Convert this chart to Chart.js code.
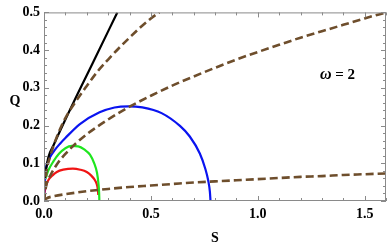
<!DOCTYPE html>
<html lang="en">
<head>
    <meta charset="UTF-8">
    <title>Q vs S, omega = 2</title>
    <script src="https://cdn.jsdelivr.net/npm/chart.js"></script>
    <style>
        body { margin: 0; background: #fff; }
    </style>
</head>
<body>
    <canvas id="qsChart" width="388" height="249"></canvas>

    <script>
        // [S, Q] pairs
        const dashA = [[0,0],[0.01,0.07],[0.03,0.12],[0.06,0.17],[0.1,0.22],[0.15,0.265],[0.2,0.305],[0.25,0.343],[0.3,0.375],[0.35,0.405],[0.4,0.433],[0.45,0.46],[0.5,0.484],[0.54,0.5]];
        const dashB = [[0,0],[0.01,0.04],[0.03,0.068],[0.06,0.097],[0.1,0.125],[0.15,0.153],[0.2,0.177],[0.3,0.216],[0.4,0.25],[0.5,0.279],[0.6,0.306],[0.7,0.33],[0.8,0.353],[0.9,0.375],[1.0,0.395],[1.1,0.414],[1.2,0.433],[1.3,0.45],[1.4,0.467],[1.5,0.484],[1.6,0.5]];
        const dashC = [[0,0],[0.01,0.006],[0.05,0.013],[0.1,0.018],[0.2,0.026],[0.3,0.032],[0.4,0.037],[0.5,0.041],[0.6,0.045],[0.7,0.049],[0.8,0.052],[0.9,0.055],[1.0,0.058],[1.1,0.061],[1.2,0.064],[1.3,0.066],[1.4,0.069],[1.5,0.071],[1.6,0.073]];
        const blackLine = [[0.003,0.06],[0.02,0.115],[0.044,0.147],[0.137,0.26],[0.231,0.369],[0.343,0.5]];
        const blueCurve = [[0,0.01],[0.003,0.05],[0.006,0.075],[0.015,0.1],[0.028,0.116],[0.05,0.135],[0.075,0.152],[0.1,0.167],[0.168,0.204],[0.26,0.235],[0.33,0.248],[0.394,0.251],[0.46,0.248],[0.55,0.233],[0.636,0.199],[0.682,0.171],[0.729,0.126],[0.755,0.085],[0.768,0.055],[0.776,0.025],[0.779,0]];
        const greenCurve = [[0.004,0.055],[0.012,0.068],[0.02,0.081],[0.044,0.105],[0.07,0.125],[0.1,0.14],[0.13,0.146],[0.16,0.145],[0.19,0.136],[0.215,0.123],[0.235,0.1],[0.248,0.075],[0.255,0.045],[0.258,0.02],[0.259,0]];
        const redCurve = [[0,0.012],[0.005,0.03],[0.012,0.045],[0.02,0.055],[0.04,0.068],[0.06,0.077],[0.09,0.083],[0.135,0.086],[0.17,0.083],[0.2,0.077],[0.22,0.068],[0.235,0.058],[0.246,0.046],[0.252,0.03],[0.254,0.016]];

        const xTicks = [0, 0.5, 1.0, 1.5];
        const yTicks = [0, 0.1, 0.2, 0.3, 0.4, 0.5];
        const xMinorStep = 0.1;
        const yMinorStep = 0.02;

        const serif = '"Liberation Serif", "DejaVu Serif", serif';
        const brown = '#6e4e2c';

        const toXY = pts => pts.map(p => ({ x: p[0], y: p[1] }));

        const solid = (data, color) => ({
            data: toXY(data),
            borderColor: color,
            borderWidth: 2.2,
            pointRadius: 0,
            cubicInterpolationMode: 'monotone',
            fill: false
        });
        const dashed = data => ({
            data: toXY(data),
            borderColor: brown,
            borderWidth: 2.6,
            borderDash: [8, 4],
            pointRadius: 0,
            cubicInterpolationMode: 'monotone',
            fill: false
        });

        // inward ticks on all four sides, frame, axis titles and annotation
        const framePlugin = {
            id: 'frame',
            afterDraw(chart) {
                const ctx = chart.ctx;
                const a = chart.chartArea;
                const xs = chart.scales.x, ys = chart.scales.y;
                ctx.save();
                ctx.strokeStyle = '#8a8a8a';
                ctx.lineWidth = 1;
                ctx.strokeRect(a.left + 0.5, a.top + 0.5, a.right - a.left - 1, a.bottom - a.top - 1);

                ctx.beginPath();
                for (let i = 0; i <= 16; i++) {
                    const v = i * xMinorStep;
                    const px = Math.round(xs.getPixelForValue(v)) + 0.5;
                    const len = (i % 5 === 0) ? 5 : 3;
                    ctx.moveTo(px, a.bottom); ctx.lineTo(px, a.bottom - len);
                    ctx.moveTo(px, a.top); ctx.lineTo(px, a.top + len);
                }
                for (let i = 0; i <= 25; i++) {
                    const v = i * yMinorStep;
                    const py = Math.round(ys.getPixelForValue(v)) + 0.5;
                    const len = (i % 5 === 0) ? 5 : 3;
                    ctx.moveTo(a.left, py); ctx.lineTo(a.left + len, py);
                    ctx.moveTo(a.right, py); ctx.lineTo(a.right - len, py);
                }
                ctx.stroke();

                ctx.fillStyle = '#000';
                ctx.font = 'bold 14px ' + serif;
                ctx.textAlign = 'center';
                ctx.textBaseline = 'middle';
                ctx.fillText('S', 215, 238);
                ctx.fillText('Q', 15, 101);

                ctx.textAlign = 'left';
                ctx.font = 'italic bold 16px ' + serif;
                ctx.fillText('ω', 320, 75);
                const w = ctx.measureText('ω').width;
                ctx.font = 'bold 15px ' + serif;
                ctx.fillText(' = 2', 320 + w, 75);
                ctx.restore();
            }
        };

        new Chart(document.getElementById('qsChart').getContext('2d'), {
            type: 'line',
            data: {
                datasets: [
                    dashed(dashA),
                    dashed(dashB),
                    dashed(dashC),
                    solid(blackLine, '#000000'),
                    solid(blueCurve, '#0a14f0'),
                    solid(greenCurve, '#1ee61e'),
                    solid(redCurve, '#f01414')
                ]
            },
            options: {
                responsive: false,
                devicePixelRatio: 1,
                animation: false,
                layout: { padding: { top: 10, right: 2, left: 0, bottom: 0 } },
                plugins: {
                    legend: { display: false },
                    tooltip: { enabled: false }
                },
                scales: {
                    x: {
                        type: 'linear',
                        min: 0,
                        max: 1.6,
                        grid: { display: false, drawTicks: false },
                        border: { display: false },
                        afterBuildTicks: s => { s.ticks = xTicks.map(v => ({ value: v })); },
                        afterFit: s => { s.height = 48; },
                        ticks: {
                            padding: 5,
                            color: '#000',
                            maxRotation: 0,
                            font: { family: serif, size: 14, weight: 'bold' },
                            callback: v => v.toFixed(1)
                        }
                    },
                    y: {
                        type: 'linear',
                        min: 0,
                        max: 0.5,
                        grid: { display: false, drawTicks: false },
                        border: { display: false },
                        afterBuildTicks: s => { s.ticks = yTicks.map(v => ({ value: v })); },
                        afterFit: s => { s.width = 44; },
                        ticks: {
                            padding: 4,
                            color: '#000',
                            font: { family: serif, size: 14, weight: 'bold' },
                            callback: v => v.toFixed(1)
                        }
                    }
                }
            },
            plugins: [framePlugin]
        });
    </script>
</body>
</html>
